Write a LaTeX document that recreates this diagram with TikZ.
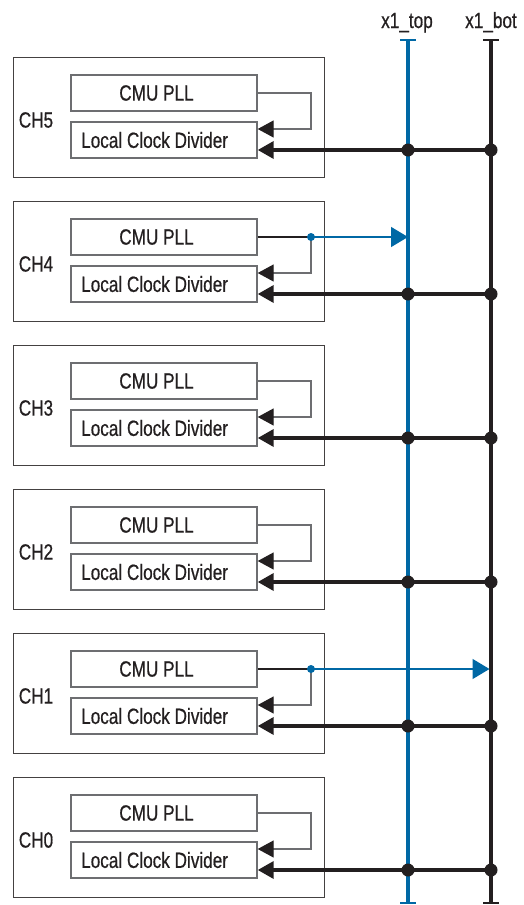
\documentclass[tikz,border=0pt]{standalone}
\usepackage{fontspec}
\setmainfont[FakeStretch=0.78,FakeBold=0.6]{Liberation Sans}
\usetikzlibrary{arrows.meta}
\definecolor{ibl}{HTML}{0068A5}
\definecolor{dk}{HTML}{231F20}
\definecolor{gr}{HTML}{6D6E71}
\begin{document}
\begin{tikzpicture}[x=1pt,y=-1pt,
  chbox/.style={draw=dk!85,line width=1pt,minimum width=311pt,minimum height=120pt,inner sep=0pt},
  inbox/.style={draw=gr,line width=1.4pt,minimum width=186pt,minimum height=36pt,inner sep=0pt},
  txt/.style={font=\fontsize{22}{24}\selectfont,text=dk,inner sep=0pt},
  fb/.style={draw=gr,line width=1.4pt,-{Triangle[length=16pt,width=17pt,color=dk]}},
  busarrow/.style={draw=dk,line width=3.5pt,-{Triangle[length=16pt,width=17pt]}},
  vbus/.style={line width=3.2pt},
  endtick/.style={line width=2.6pt},
  blarrow/.style={draw=ibl,line width=1.3pt,-{Triangle[length=17pt,width=20pt]}}]
\useasboundingbox (0,0) rectangle (524,905);
% vertical buses
\coordinate (tt) at (408,40); \coordinate (tb) at (408,903);
\coordinate (bt) at (491,40); \coordinate (bb) at (491,903);
\draw[vbus,ibl] (tt) -- (tb);
\draw[vbus,dk] (bt) -- (bb);
\draw[endtick,ibl] ([xshift=-8pt]tt) -- ([xshift=8pt]tt);
\draw[endtick,ibl] ([xshift=-8pt]tb) -- ([xshift=8pt]tb);
\draw[endtick,dk] ([xshift=-8pt]bt) -- ([xshift=8pt]bt);
\draw[endtick,dk] ([xshift=-8pt]bb) -- ([xshift=8pt]bb);
\node[txt,anchor=base] (ltop) at (407,28) {x1\_top};
\node[txt,anchor=base] (lbot) at (491,28) {x1\_bot};
\foreach \k/\n in {0/5,1/4,2/3,3/2,4/1,5/0}{
  \pgfmathsetmacro\yy{144*\k}
  \node[chbox] (ch\n) at (168.5,117+\yy) {};
  \node[txt] (chl\n) at (36,120+\yy) {CH\n};
  \node[inbox] (cmu\n) at (164,93+\yy) {};
  \node[txt] (cmut\n) at (156.5,93+\yy) {CMU PLL};
  \node[inbox] (lcd\n) at (164,140+\yy) {};
  \node[txt,anchor=west] (lcdt\n) at (81,140+\yy) {Local Clock Divider};
  \coordinate (fk\n) at (311,93+\yy);
  \coordinate (fr\n) at (311,129+\yy);
  \coordinate (xt\n) at (408,150+\yy);
  \coordinate (xb\n) at (491,150+\yy);
  \draw[fb] (cmu\n.east) -- (fk\n) -- (fr\n) -- (lcd\n.east |- fr\n);
  \draw[busarrow] (xb\n) -- (lcd\n.east |- xb\n);
  \fill[dk] (xt\n) circle (6.5pt);
  \fill[dk] (xb\n) circle (6.5pt);
}
% CH4 and CH1 taps
\coordinate (a4) at (408,237);
\coordinate (a1) at (489.5,669);
\draw[dk,line width=1.2pt] (cmu4.east) -- (fk4);
\draw[blarrow] (fk4) -- (a4);
\fill[ibl] (fk4) circle (4pt);
\draw[dk,line width=1.2pt] (cmu1.east) -- (fk1);
\draw[blarrow] (fk1) -- (a1);
\fill[ibl] (fk1) circle (4pt);
\end{tikzpicture}
\end{document}
